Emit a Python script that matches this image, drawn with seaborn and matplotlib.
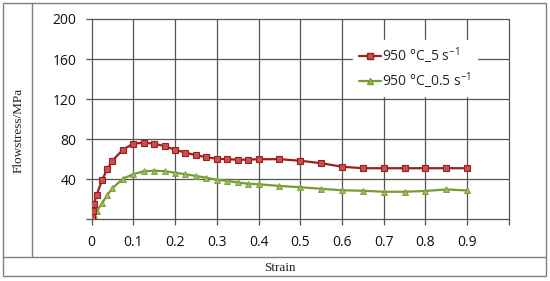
import seaborn as sns
import matplotlib.pyplot as plt
import numpy as np
import pandas as pd
from matplotlib.lines import Line2D
from matplotlib.patches import Rectangle

# strain / flow stress readings
strain_5 = [0, 0.003, 0.006, 0.012, 0.025, 0.0375, 0.05, 0.075, 0.1, 0.125, 0.15, 0.175,
            0.2, 0.225, 0.25, 0.275, 0.3, 0.325, 0.35, 0.375, 0.4, 0.45, 0.5, 0.55,
            0.6, 0.65, 0.7, 0.75, 0.8, 0.85, 0.9]
stress_5 = [2, 8, 15, 24, 39, 50, 58.5, 69.5, 75.5, 76.5, 75.5, 73,
            69.5, 66.5, 64, 62, 60.5, 60, 59.5, 59.5, 60, 60, 58.5, 56,
            52.5, 51, 51, 51, 51, 51, 51]
strain_05 = [0, 0.006, 0.0125, 0.025, 0.0375, 0.05, 0.075, 0.1, 0.125, 0.15, 0.175,
             0.2, 0.225, 0.25, 0.275, 0.3, 0.325, 0.35, 0.375, 0.4, 0.45, 0.5, 0.55,
             0.6, 0.65, 0.7, 0.75, 0.8, 0.85, 0.9]
stress_05 = [0, 4, 8, 16, 24, 31, 40.5, 45, 48, 48.5, 48, 46.5, 45, 43.3, 41.5,
             39.5, 38.3, 36.8, 35.5, 35, 33.3, 32, 30.5, 29, 28.5, 27.5, 27.5,
             28.3, 29.8, 28.8]
labels = ['950 °C_5 s$^{-1}$', '950 °C_0.5 s$^{-1}$']
xticks = [0, 0.1, 0.2, 0.3, 0.4, 0.5, 0.6, 0.7, 0.8, 0.9, 1.0]
xticklabels = ['0', '0.1', '0.2', '0.3', '0.4', '0.5', '0.6', '0.7', '0.8', '0.9', '']
yticks = [0, 40, 80, 120, 160, 200]
yticklabels = ['', '40', '80', '120', '160', '200']

sns.set_style("ticks")
plt.rcParams['font.family'] = ['Open Sans', 'DejaVu Sans']
plt.rcParams['mathtext.default'] = 'regular'

fig = plt.figure(figsize=(5.5, 2.81), dpi=100)
fig.patch.set_facecolor('white')
ax = fig.add_axes([0.1664, 0.2196, 0.759, 0.7128])
ax.patch.set_visible(False)

df5 = pd.DataFrame({'strain': strain_5, 'stress': stress_5})
df05 = pd.DataFrame({'strain': strain_05, 'stress': stress_05})

red_line, red_fill = '#9a1f1f', '#c9504d'
grn_line, grn_fill = '#7a9a35', '#9bbb59'
grid_c = '#555555'

sns.lineplot(data=df5, x='strain', y='stress', ax=ax, color=red_line, lw=1.6,
             marker='s', markersize=4.5, markerfacecolor=red_fill,
             markeredgecolor=red_line, markeredgewidth=0.8, zorder=4)
sns.lineplot(data=df05, x='strain', y='stress', ax=ax, color=grn_line, lw=1.6,
             marker='^', markersize=5, markerfacecolor=grn_fill,
             markeredgecolor=grn_line, markeredgewidth=0.6, zorder=3)

ax.set_xlim(0, 1.0)
ax.set_ylim(0, 200)
ax.set_xticks(xticks)
ax.set_xticklabels(xticklabels)
ax.set_yticks(yticks)
ax.set_yticklabels(yticklabels)
ax.set_xlabel('')
ax.set_ylabel('')
for s in ['top', 'right']:
    ax.spines[s].set_visible(False)
for s in ['left', 'bottom']:
    ax.spines[s].set_color(grid_c)
    ax.spines[s].set_linewidth(0.9)
ax.tick_params(axis='both', direction='out', length=4, width=0.9, color=grid_c,
               labelsize=10, labelcolor='#111111', bottom=True, left=True)
ax.tick_params(axis='y', pad=7)
ax.tick_params(axis='x', pad=7)
ax.grid(False)

# gridlines drawn on the figure, behind the (transparent) axes
grid_lines = []
for yv in yticks[1:]:
    grid_lines.append(Line2D([0, 1], [yv, yv], transform=ax.get_yaxis_transform(),
                             color=grid_c, lw=0.9, zorder=-1))
for xv in xticks[1:]:
    grid_lines.append(Line2D([xv, xv], [0, 1], transform=ax.get_xaxis_transform(),
                             color=grid_c, lw=0.9, zorder=-1))
for gl in grid_lines:
    fig.add_artist(gl)

# legend on white patch
handles = [Line2D([], [], color=red_line, lw=1.6, marker='s', markersize=4,
                  markerfacecolor=red_fill, markeredgecolor=red_line),
           Line2D([], [], color=grn_line, lw=1.6, marker='^', markersize=4.5,
                  markerfacecolor=grn_fill, markeredgecolor=grn_line)]
leg = ax.legend(handles, labels, loc='upper left', bbox_to_anchor=(0.61, 0.93),
                frameon=True, fontsize=10, handlelength=1.6, handletextpad=0.1,
                borderpad=0.4, labelspacing=0.3)
leg.get_frame().set_edgecolor('white')
leg.get_frame().set_facecolor('white')
leg.get_frame().set_alpha(1)
leg.set_zorder(10)

# table-like frame around the chart
fc = '#7f7f7f'
fig.add_artist(Rectangle((3 / 550, 1 - 276 / 281), 543 / 550, 273 / 281,
                         fill=False, edgecolor=fc, lw=1.0, transform=fig.transFigure))
fig.add_artist(Line2D([3 / 550, 546 / 550], [1 - 257 / 281] * 2, color=fc, lw=1.0,
                      transform=fig.transFigure))
fig.add_artist(Line2D([32 / 550] * 2, [1 - 257 / 281, 1 - 3 / 281], color=fc, lw=1.0,
                      transform=fig.transFigure))

fig.text(19 / 550, 1 - 130 / 281, 'Flowstress/MPa', rotation=90, ha='center', va='center',
         family='Liberation Serif', fontsize=9.5, color='#222222')
fig.text(280 / 550, 1 - 268 / 281, 'Strain', ha='center', va='center',
         family='Liberation Serif', fontsize=9.5, color='#222222')


# make sure the grid really shows (sample a gridline pixel at strain 0.35, 120 MPa)
def grid_shows():
    fig.canvas.draw()
    img = np.asarray(fig.canvas.buffer_rgba())
    px, py = ax.transData.transform((0.35, 120))
    r, c = int(round(fig.bbox.height - py)), int(round(px))
    return img[max(r - 2, 0):r + 3, c, :3].min() < 170


if not grid_shows():
    for gl in grid_lines:
        gl.set_zorder(1.5)

fig.savefig('out.png', dpi=100)
